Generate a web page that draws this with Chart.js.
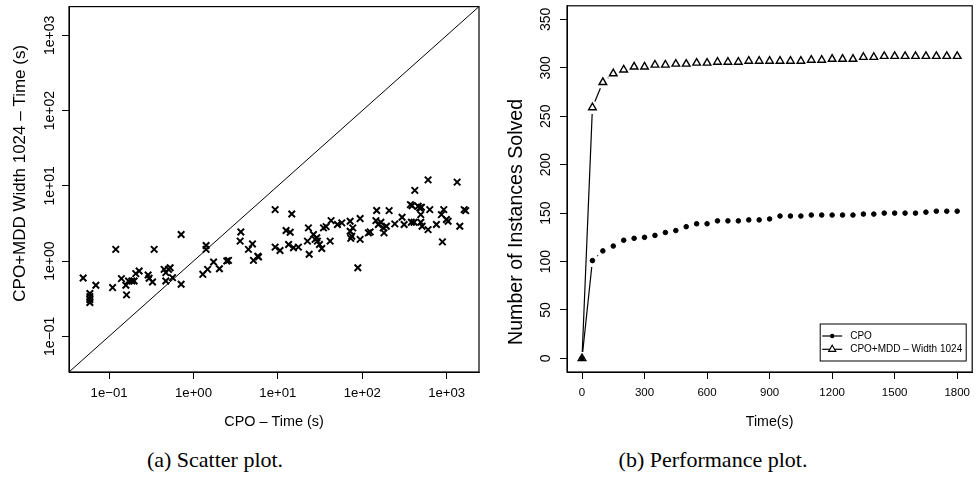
<!DOCTYPE html>
<html lang="en">
<head>
<meta charset="UTF-8">
<title>CPO vs CPO+MDD</title>
<script src="https://cdn.jsdelivr.net/npm/chart.js@4.4.1/dist/chart.umd.min.js"></script>
<style>
    body {
        margin: 0;
        background: #fff;
        width: 978px;
        height: 494px;
        position: relative;
        overflow: hidden;
    }
    .panel {
        position: absolute;
        top: 0;
        width: 489px;
        height: 440px;
    }
    #left { left: 0; }
    #right { left: 489px; }
    .caption {
        position: absolute;
        top: 449px;
        font-family: 'Liberation Serif', serif;
        font-size: 22px;
        line-height: 1;
        color: #000;
        white-space: nowrap;
        transform: translateX(-50%);
    }
</style>
</head>
<body>
<div class="panel" id="left"><canvas id="scatterChart"></canvas></div>
<div class="panel" id="right"><canvas id="perfChart"></canvas></div>
<div class="caption" style="left:215px">(a) Scatter plot.</div>
<div class="caption" style="left:713px">(b) Performance plot.</div>

<script>
// (a) scatter: solve time of CPO (x) against CPO+MDD width 1024 (y), seconds
const cpoTime = [0.0493, 0.0592, 0.0592, 0.0592, 0.0592, 0.0697, 0.110, 0.120, 0.140, 0.158,
    0.161, 0.170, 0.186, 0.198, 0.207, 0.227, 0.290, 0.298, 0.327, 0.342,
    0.449, 0.470, 0.506, 0.470, 0.529, 0.564, 0.714, 0.714, 1.29, 1.47,
    1.41, 1.41, 1.73, 2.03, 2.48, 2.60, 3.64, 3.57, 4.48, 5.00,
    5.14, 5.78, 5.89, 9.28, 9.28, 10.6, 14.6, 12.5, 14.0, 13.4,
    15.3, 17.5, 23.0, 22.4, 23.5, 26.4, 28.9, 29.4, 31.1, 27.6,
    33.1, 34.7, 37.3, 41.6, 42.7, 50.8, 57.2, 71.8, 71.8, 75.1,
    73.1, 77.2, 94.3, 94.3, 88.5, 118, 124, 148, 145, 155,
    208, 166, 177, 181, 193, 243, 296, 313, 382, 411,
    372, 389, 459, 480, 502, 493, 493, 511, 602, 630,
    419, 602, 756, 866, 923, 993, 1040, 891, 1330, 1430,
    1610, 1680];
const mddTime = [0.596, 0.370, 0.337, 0.308, 0.281, 0.477, 0.444, 1.43, 0.584, 0.477,
    0.355, 0.544, 0.544, 0.544, 0.680, 0.738, 0.653, 0.590, 0.527, 1.43,
    0.776, 0.544, 0.776, 0.701, 0.816, 0.602, 2.25, 0.491, 0.666, 0.776,
    1.61, 1.43, 0.970, 0.792, 1.00, 1.02, 2.44, 1.84, 1.43, 1.69,
    1.02, 1.16, 1.13, 4.83, 1.53, 1.38, 4.23, 2.55, 2.42, 1.66,
    1.50, 1.53, 2.76, 1.84, 1.23, 2.25, 2.04, 1.84, 1.66, 1.94,
    1.47, 2.76, 2.87, 1.84, 3.45, 3.06, 3.22, 3.38, 2.49, 2.14,
    2.00, 2.76, 3.67, 1.94, 0.816, 2.37, 2.44, 4.70, 3.45, 3.06,
    4.68, 3.28, 2.76, 2.37, 2.90, 3.12, 3.82, 3.06, 3.28, 3.28,
    5.62, 5.45, 5.34, 5.08, 5.18, 4.14, 3.28, 2.90, 2.62, 4.83,
    8.70, 12.0, 3.06, 4.14, 4.83, 3.56, 3.38, 1.80, 11.2, 2.90,
    4.83, 4.68];
const logRange = [0.0335, 2415];
const logTicks = [0.1, 1, 10, 100, 1000];
const logTickLabels = ['1e\u221201', '1e+00', '1e+01', '1e+02', '1e+03'];

// (b) performance: instances solved within each time limit
const timeLimit = [0, 50, 100, 150, 200, 250, 300, 350, 400, 450,
    500, 550, 600, 650, 700, 750, 800, 850, 900, 950,
    1000, 1050, 1100, 1150, 1200, 1250, 1300, 1350, 1400, 1450,
    1500, 1550, 1600, 1650, 1700, 1750, 1800];
const cpoSolved = [0, 101, 111, 116, 122, 124, 125, 127, 130, 132,
    136, 139, 139, 142, 142, 142, 143, 143, 144, 147,
    147, 147, 148, 148, 148, 148, 148, 149, 149, 150,
    150, 150, 150, 151, 152, 152, 152];
const mddSolved = [0, 259, 285, 294, 298, 301, 301, 303, 303, 304,
    304, 305, 305, 306, 306, 306, 307, 307, 307, 307,
    307, 307, 308, 308, 309, 309, 309, 311, 311, 312,
    312, 312, 312, 312, 312, 312, 312];
const timeTicks = [0, 300, 600, 900, 1200, 1500, 1800];
const timeTickLabels = ['0', '300', '600', '900', '1200', '1500', '1800'];
const solvedTicks = [0, 50, 100, 150, 200, 250, 300, 350];
const solvedTickLabels = ['0', '50', '100', '150', '200', '250', '300', '350'];
const seriesNames = ['CPO', 'CPO+MDD \u2013 Width 1024'];

const SANS = "'Liberation Sans', Arial, Helvetica, sans-serif";
Chart.defaults.font.family = SANS;
Chart.defaults.color = '#000';

// box around the plotting region, like R's box()
const frame = {
    id: 'frame',
    afterDraw(chart) {
        const a = chart.chartArea, ctx = chart.ctx;
        ctx.save();
        ctx.strokeStyle = '#000';
        ctx.lineWidth = 1.2;
        ctx.strokeRect(a.left, a.top, a.right - a.left, a.bottom - a.top);
        ctx.restore();
    }
};

// y tick labels and y title written parallel to the axis
const sideLabels = {
    id: 'sideLabels',
    afterDraw(chart, args, opts) {
        const s = chart.scales.y, a = chart.chartArea, ctx = chart.ctx;
        ctx.save();
        ctx.fillStyle = '#000';
        ctx.textAlign = 'center';
        ctx.textBaseline = 'middle';
        ctx.font = opts.size + 'px ' + SANS;
        s.ticks.forEach(t => {
            ctx.save();
            ctx.translate(a.left - opts.offset, s.getPixelForValue(t.value));
            ctx.rotate(-Math.PI / 2);
            ctx.fillText(t.label, 0, 0);
            ctx.restore();
        });
        ctx.font = opts.titleSize + 'px ' + SANS;
        ctx.translate(opts.titleX, (a.top + a.bottom) / 2 + opts.titleShift);
        ctx.rotate(-Math.PI / 2);
        ctx.fillText(opts.title, 0, 0);
        ctx.restore();
    }
};

// type = "b" lines: segments with a gap round each point
const gappedLines = {
    id: 'gappedLines',
    afterDatasetsDraw(chart, args, opts) {
        const ctx = chart.ctx, gap = opts.gap;
        ctx.save();
        ctx.strokeStyle = '#000';
        ctx.lineWidth = opts.width;
        chart.data.datasets.forEach((ds, i) => {
            const pts = chart.getDatasetMeta(i).data;
            for (let k = 1; k < pts.length; k++) {
                const a = pts[k - 1], b = pts[k];
                const dx = b.x - a.x, dy = b.y - a.y, len = Math.hypot(dx, dy);
                if (len <= 2 * gap) continue;
                const ux = dx / len, uy = dy / len;
                ctx.beginPath();
                ctx.moveTo(a.x + ux * gap, a.y + uy * gap);
                ctx.lineTo(b.x - ux * gap, b.y - uy * gap);
                ctx.stroke();
            }
        });
        ctx.restore();
    }
};

// legend box in the bottom right corner of the plot
const boxLegend = {
    id: 'boxLegend',
    afterDraw(chart) {
        const a = chart.chartArea, ctx = chart.ctx;
        const w = 146, h = 37;
        const x0 = a.right - 6 - w, y0 = a.bottom - 11 - h;
        ctx.save();
        ctx.strokeStyle = '#000';
        ctx.fillStyle = '#000';
        ctx.lineWidth = 1;
        ctx.strokeRect(x0, y0, w, h);
        ctx.font = '10px ' + SANS;
        ctx.textBaseline = 'middle';
        ctx.textAlign = 'left';
        seriesNames.forEach((name, i) => {
            const y = y0 + 12 + i * 13.3, mx = x0 + 12;
            ctx.lineWidth = 1.2;
            ctx.beginPath();
            ctx.moveTo(x0 + 2, y);
            ctx.lineTo(x0 + 22, y);
            ctx.stroke();
            ctx.beginPath();
            if (i === 0) {
                ctx.arc(mx, y, 2.2, 0, Math.PI * 2);
                ctx.fill();
            } else {
                ctx.fillStyle = '#fff';
                ctx.moveTo(mx, y - 4);
                ctx.lineTo(mx + 3.5, y + 2);
                ctx.lineTo(mx - 3.5, y + 2);
                ctx.closePath();
                ctx.fill();
                ctx.stroke();
                ctx.fillStyle = '#000';
            }
            ctx.fillText(name, x0 + 30, y);
        });
        ctx.restore();
    }
};

function axisLine() {
    return { display: true, color: '#000', width: 1 };
}
function tickMarks() {
    return { drawOnChartArea: false, drawTicks: true, tickLength: 7, color: '#000', lineWidth: 1 };
}

// Chart 1: scatter plot on log-log axes
new Chart(document.getElementById('scatterChart'), {
    type: 'scatter',
    data: {
        datasets: [{
            data: cpoTime.map((x, i) => ({ x: x, y: mddTime[i] })),
            pointStyle: 'crossRot',
            pointRadius: 4.6,
            pointBorderWidth: 2,
            borderColor: '#000',
            backgroundColor: '#000'
        }, {
            // line of equal times
            data: [{ x: logRange[0], y: logRange[0] }, { x: logRange[1], y: logRange[1] }],
            showLine: true,
            pointRadius: 0,
            borderWidth: 1,
            borderColor: '#000'
        }]
    },
    options: {
        responsive: true,
        maintainAspectRatio: false,
        animation: false,
        layout: { padding: { top: 5, right: 10, left: 0, bottom: 0 } },
        plugins: {
            legend: { display: false },
            tooltip: { enabled: false },
            sideLabels: { size: 14, offset: 19, title: 'CPO+MDD Width 1024 \u2013 Time (s)',
                          titleSize: 17, titleX: 20, titleShift: -16 }
        },
        scales: {
            x: {
                type: 'logarithmic',
                min: logRange[0],
                max: logRange[1],
                afterBuildTicks: s => { s.ticks = logTicks.map(v => ({ value: v })); },
                afterFit: s => { s.height = 68; },
                ticks: { autoSkip: false, maxRotation: 0, padding: 6, font: { size: 13.2 },
                         callback: (v, i) => logTickLabels[i] },
                grid: tickMarks(),
                border: axisLine(),
                title: { display: true, text: 'CPO \u2013 Time (s)', font: { size: 14.4 },
                         padding: { top: 0, bottom: 9 } }
            },
            y: {
                type: 'logarithmic',
                min: logRange[0],
                max: logRange[1],
                afterBuildTicks: s => { s.ticks = logTicks.map(v => ({ value: v })); },
                afterFit: s => { s.width = 69; },
                ticks: { display: false, autoSkip: false, callback: (v, i) => logTickLabels[i] },
                grid: tickMarks(),
                border: axisLine()
            }
        }
    },
    plugins: [frame, sideLabels]
});

// Chart 2: instances solved over time
new Chart(document.getElementById('perfChart'), {
    type: 'scatter',
    data: {
        datasets: [{
            label: seriesNames[0],
            data: timeLimit.map((t, i) => ({ x: t, y: cpoSolved[i] })),
            pointStyle: 'circle',
            pointRadius: 2.3,
            pointBorderWidth: 1,
            borderColor: '#000',
            backgroundColor: '#000'
        }, {
            label: seriesNames[1],
            data: timeLimit.map((t, i) => ({ x: t, y: mddSolved[i] })),
            pointStyle: 'triangle',
            pointRadius: 4.4,
            pointBorderWidth: 1.4,
            borderColor: '#000',
            backgroundColor: 'rgba(0,0,0,0)'
        }]
    },
    options: {
        responsive: true,
        maintainAspectRatio: false,
        animation: false,
        layout: { padding: { top: 4, right: 1, left: 0, bottom: 0 } },
        plugins: {
            legend: { display: false },
            tooltip: { enabled: false },
            sideLabels: { size: 14, offset: 21, title: 'Number of Instances Solved',
                          titleSize: 19.6, titleX: 28, titleShift: 33 },
            gappedLines: { gap: 6.5, width: 1.2 }
        },
        scales: {
            x: {
                type: 'linear',
                min: -72,
                max: 1872,
                afterBuildTicks: s => { s.ticks = timeTicks.map(v => ({ value: v })); },
                afterFit: s => { s.height = 68; },
                ticks: { autoSkip: false, maxRotation: 0, padding: 7, font: { size: 11.5 },
                         callback: (v, i) => timeTickLabels[i] },
                grid: tickMarks(),
                border: axisLine(),
                title: { display: true, text: 'Time(s)', font: { size: 14.2 },
                         padding: { top: 0, bottom: 9 } }
            },
            y: {
                type: 'linear',
                min: -14,
                max: 364,
                afterBuildTicks: s => { s.ticks = solvedTicks.map(v => ({ value: v })); },
                afterFit: s => { s.width = 78; },
                ticks: { display: false, autoSkip: false, callback: (v, i) => solvedTickLabels[i] },
                grid: tickMarks(),
                border: axisLine()
            }
        }
    },
    plugins: [frame, sideLabels, gappedLines, boxLegend]
});
</script>
</body>
</html>
